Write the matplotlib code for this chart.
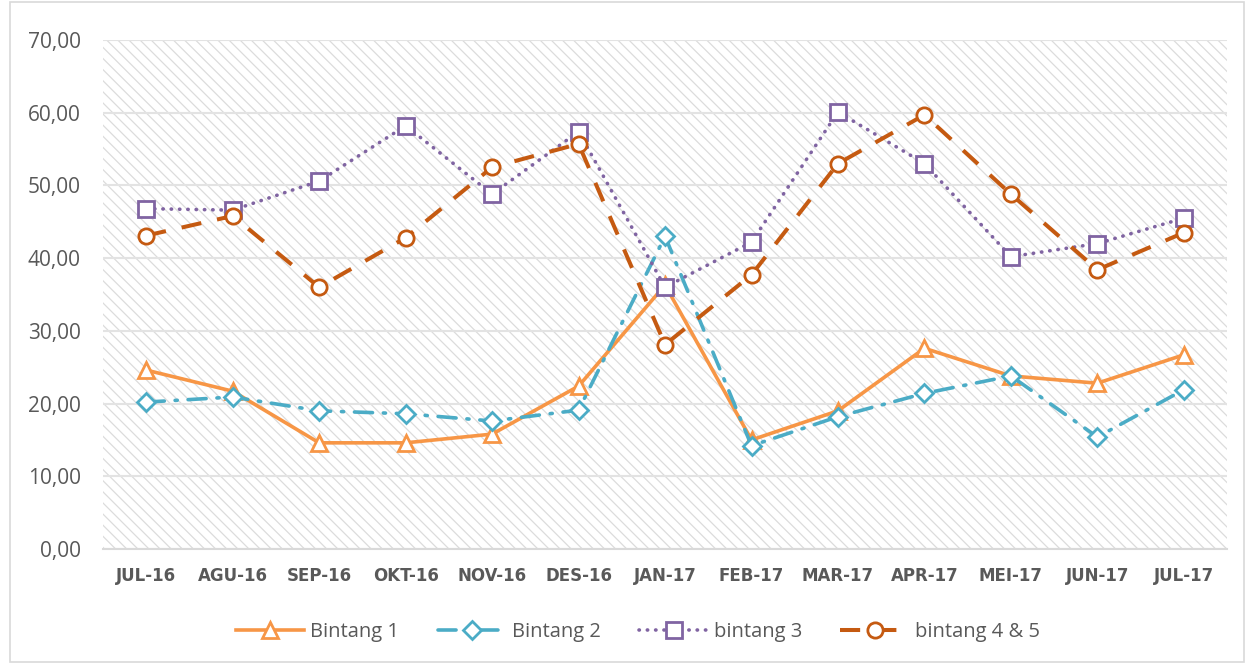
import matplotlib
matplotlib.use("Agg")
import matplotlib.pyplot as plt
from matplotlib.patches import Rectangle
from matplotlib.ticker import FuncFormatter

months = ["JUL-16", "AGU-16", "SEP-16", "OKT-16", "NOV-16", "DES-16", "JAN-17",
          "FEB-17", "MAR-17", "APR-17", "MEI-17", "JUN-17", "JUL-17"]
bintang1 = [24.6, 21.7, 14.6, 14.6, 15.8, 22.4, 36.3, 15.0, 19.0, 27.6, 23.8, 22.8, 26.7]
bintang2 = [20.2, 20.9, 19.0, 18.6, 17.6, 19.1, 43.0, 14.2, 18.2, 21.4, 23.8, 15.4, 21.9]
bintang3 = [46.8, 46.6, 50.6, 58.2, 48.8, 57.4, 36.0, 42.2, 60.1, 53.0, 40.2, 42.0, 45.5]
bintang45 = [43.1, 45.8, 36.0, 42.8, 52.5, 55.7, 28.1, 37.7, 53.0, 59.7, 48.8, 38.4, 43.5]
series_names = ["Bintang 1", "Bintang 2", "bintang 3", "bintang 4 & 5"]
yticks = [0, 10, 20, 30, 40, 50, 60, 70]

plt.rcParams['hatch.linewidth'] = 0.9
plt.rcParams['hatch.color'] = '#DCDCDC'

fig = plt.figure(figsize=(12.46, 6.64), dpi=100)
ax = fig.add_axes([0.0827, 0.1732, 0.9021, 0.7666])

# outer border
fig.patches.append(Rectangle((0.008, 0.003), 0.99, 0.994, transform=fig.transFigure,
                             fill=False, edgecolor='#D9D9D9', linewidth=1.2))

# hatched plot background
ax.set_facecolor('white')
bg = Rectangle((0, 0), 1, 1, transform=ax.transAxes, facecolor='white',
               edgecolor='#DCDCDC', hatch='\\\\\\', linewidth=0, zorder=0)
ax.add_patch(bg)

x = list(range(len(months)))
lw = 2.6
ms = 11
mew = 2.0
ax.plot(x, bintang1, color='#F79646', lw=lw, ls='-', marker='^', ms=ms + 1,
        mfc='white', mec='#F79646', mew=mew, label=series_names[0], zorder=3)
ax.plot(x, bintang2, color='#4BACC6', lw=lw, ls=(0, (5, 3, 0.6, 3)), marker='D', ms=ms - 2,
        mfc='white', mec='#4BACC6', mew=mew, label=series_names[1], zorder=3,
        dash_capstyle='round')
ax.plot(x, bintang3, color='#8064A2', lw=lw, ls=(0, (0.1, 2.2)), marker='s', ms=ms,
        mfc='white', mec='#8064A2', mew=mew, label=series_names[2], zorder=3,
        dash_capstyle='round')
ax.plot(x, bintang45, color='#C55A11', lw=lw + 0.3, ls=(0, (5, 4)), marker='o', ms=ms,
        mfc='white', mec='#C55A11', mew=mew, label=series_names[3], zorder=3)

ax.set_xlim(-0.5, len(months) - 0.5)
ax.set_ylim(0, 70)
ax.set_yticks(yticks)
ax.yaxis.set_major_formatter(FuncFormatter(lambda v, p: f"{v:.2f}".replace('.', ',')))
ax.set_xticks(x)
ax.set_xticklabels(months)
ax.grid(axis='y', color='#E3E3E3', lw=1.5, zorder=1)
ax.set_axisbelow(True)
for s in ['top', 'right', 'left']:
    ax.spines[s].set_visible(False)
ax.spines['bottom'].set_color('#D9D9D9')
ax.spines['bottom'].set_linewidth(1.5)
ax.tick_params(axis='both', length=0)
ax.tick_params(axis='y', pad=16, labelsize=15, labelcolor='#595959')
ax.tick_params(axis='x', pad=13, labelcolor='#595959')
for t in ax.get_yticklabels():
    t.set_fontfamily('Open Sans')
for t in ax.get_xticklabels():
    t.set_fontfamily('DejaVu Sans')
    t.set_fontweight('bold')
    t.set_fontsize(12)

handles, labels = ax.get_legend_handles_labels()
leg = fig.legend(handles, labels, loc='center', bbox_to_anchor=(0.512, 0.048), ncol=4,
                 frameon=False, handlelength=3.4, columnspacing=1.9, handletextpad=0.3,
                 prop={'family': 'Open Sans', 'size': 14.5})
for t in leg.get_texts():
    t.set_color('#595959')

fig.savefig('out.png', dpi=100)
